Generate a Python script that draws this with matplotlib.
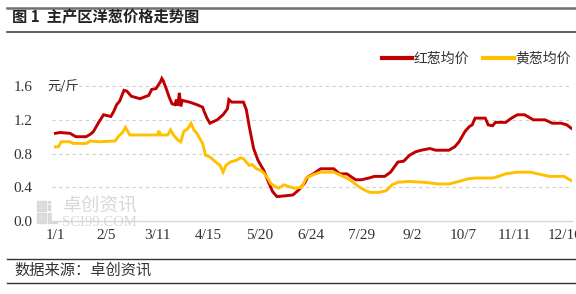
import matplotlib
matplotlib.use("Agg")
import matplotlib.pyplot as plt
from matplotlib.lines import Line2D
from matplotlib.patches import Rectangle

plt.rcParams['font.family'] = ['Noto Sans CJK SC', 'DejaVu Sans']

# days since 1/1 (2024) and price, yuan/jin
red_days = [0, 3, 10, 14, 21, 24, 26, 30, 33, 38, 40, 42, 44, 47, 49, 52, 58, 61, 64, 66, 69,
            72, 73, 74, 76, 78, 80, 82, 83, 84, 85, 86, 87, 92, 97, 101, 102, 104, 106, 111,
            115, 118, 119, 121, 129, 131, 133, 136, 139, 143, 146, 149, 152, 158, 163, 167,
            171, 173, 177, 182, 191, 195, 200, 206, 210, 215, 219, 226, 230, 235, 239, 243,
            247, 251, 257, 261, 270, 274, 277, 281, 284, 286, 288, 295, 297, 300, 302, 309,
            313, 317, 322, 325, 328, 336, 341, 347, 351, 354]
red_vals = [1.04, 1.05, 1.04, 1.00, 1.00, 1.03, 1.06, 1.18, 1.26, 1.24, 1.30, 1.38, 1.42, 1.55,
            1.54, 1.48, 1.45, 1.47, 1.49, 1.56, 1.57, 1.65, 1.69, 1.66, 1.57, 1.47, 1.39, 1.38,
            1.44, 1.37, 1.52, 1.36, 1.43, 1.41, 1.38, 1.35, 1.30, 1.22, 1.16, 1.20, 1.26, 1.33,
            1.44, 1.41, 1.41, 1.32, 1.12, 0.86, 0.72, 0.60, 0.47, 0.35, 0.29, 0.30, 0.31, 0.37,
            0.45, 0.52, 0.56, 0.62, 0.62, 0.56, 0.56, 0.49, 0.49, 0.51, 0.53, 0.53, 0.58, 0.70,
            0.71, 0.78, 0.82, 0.84, 0.86, 0.84, 0.84, 0.88, 0.94, 1.06, 1.12, 1.14, 1.22, 1.22,
            1.14, 1.13, 1.17, 1.17, 1.22, 1.26, 1.26, 1.23, 1.20, 1.20, 1.16, 1.16, 1.14, 1.10]

yel_days = [0, 2, 4, 10, 12, 21, 24, 30, 41, 43, 46, 48, 51, 70, 71, 72, 77, 79, 81, 84, 86,
            88, 91, 93, 95, 97, 99, 101, 103, 106, 110, 113, 115, 117, 120, 124, 127, 129, 131,
            133, 135, 138, 141, 143, 146, 148, 151, 153, 157, 160, 164, 169, 172, 177, 182,
            191, 195, 202, 208, 213, 216, 222, 227, 231, 235, 243, 253, 263, 270, 277, 283,
            288, 300, 304, 309, 317, 326, 331, 339, 349, 354]
yel_vals = [0.88, 0.88, 0.94, 0.94, 0.92, 0.92, 0.95, 0.94, 0.95, 1.00, 1.05, 1.11, 1.02, 1.02,
            1.07, 1.02, 1.02, 1.08, 1.02, 0.96, 0.94, 1.06, 1.10, 1.16, 1.08, 1.04, 0.98, 0.92,
            0.78, 0.76, 0.70, 0.66, 0.58, 0.66, 0.70, 0.72, 0.75, 0.74, 0.70, 0.66, 0.67, 0.62,
            0.60, 0.57, 0.50, 0.44, 0.41, 0.39, 0.43, 0.41, 0.39, 0.40, 0.51, 0.55, 0.58, 0.58,
            0.55, 0.49, 0.41, 0.36, 0.34, 0.34, 0.36, 0.43, 0.46, 0.47, 0.46, 0.44, 0.44, 0.47,
            0.50, 0.51, 0.51, 0.53, 0.56, 0.58, 0.58, 0.56, 0.53, 0.53, 0.48]

tick_days = [0, 35, 70, 105, 140, 175, 210, 245, 280, 315, 350]
tick_labels = ["1/1", "2/5", "3/11", "4/15", "5/20", "6/24", "7/29", "9/2", "10/7", "11/11", "12/16"]
y_ticks = [0.0, 0.4, 0.8, 1.2, 1.6]

RED = "#C00000"
YEL = "#FFC000"
serif = "Liberation Serif"

fig = plt.figure(figsize=(5.76, 2.94), dpi=100)
ax = fig.add_axes([0.09, 0.248, 0.903, 0.574])

ax.plot(red_days, red_vals, color=RED, lw=2.1, solid_joinstyle="miter")
ax.plot(yel_days, yel_vals, color=YEL, lw=2.1, solid_joinstyle="miter")

ax.set_xlim(-2.5, 354.5)
ax.set_ylim(0, 2.0)
ax.set_yticks(y_ticks)
ax.set_yticklabels([f"{v:.1f}" for v in y_ticks], fontfamily=serif, fontsize=11, color="#333333")
ax.set_xticks(tick_days)
ax.set_xticklabels(tick_labels, fontfamily=serif, fontsize=11, color="#333333")
ax.tick_params(length=0, pad=6)
ax.tick_params(axis="y", pad=14)
for y in y_ticks[1:]:
    ax.axhline(y, color="#d0d0d0", lw=0.8, ls=(0, (3, 3)), zorder=0)
for s in ["top", "right", "left"]:
    ax.spines[s].set_visible(False)
ax.spines["bottom"].set_color("#d9d9d9")
ax.spines["bottom"].set_linewidth(1.0)

fig.text(47 / 576, 1 - 86 / 294, "元/斤", fontsize=9.5, color="#333333", va="center")

# legend
handles = [Line2D([], [], color=RED, lw=3), Line2D([], [], color=YEL, lw=3)]
fig.legend(handles, ["红葱均价", "黄葱均价"], loc="center right", bbox_to_anchor=(1.012, 1 - 59 / 294),
           ncol=2, frameon=False, fontsize=10, handlelength=2.2, handletextpad=0.1, columnspacing=1.0,
           labelcolor="#333333")

# title and frame lines
fig.add_artist(Line2D([7 / 576, 1], [1 - 7.5 / 294] * 2, color="#707070", lw=1.8))
fig.text(12 / 576, 1 - 17 / 294, "图 1  主产区洋葱价格走势图", fontsize=11, fontweight="bold",
         color="#222222", va="center")
fig.add_artist(Line2D([7 / 576, 1], [1 - 31.5 / 294] * 2, color="#444444", lw=1.2))
fig.add_artist(Line2D([7 / 576, 1], [1 - 259 / 294] * 2, color="#333333", lw=1.0))
fig.text(14 / 576, 1 - 270 / 294, "数据来源：卓创资讯", fontsize=11, color="#333333", va="center")
fig.add_artist(Line2D([7 / 576, 1], [1 - 283 / 294] * 2, color="#333333", lw=1.0))

# watermark
wm = "#cfcfcf"
for i, j in [(0, 0), (0, 1), (1, 0)]:
    fig.add_artist(Rectangle(((37 + i * 11) / 576, 1 - (223 - j * 12) / 294), 9 / 576, 10 / 294,
                             transform=fig.transFigure, color=wm, alpha=0.7, zorder=0))
for i in range(3):
    for j in range(3):
        fig.add_artist(Rectangle(((48 + i * 3.5) / 576, 1 - (210 - j * 3.5) / 294), 2 / 576, 2 / 294,
                                 transform=fig.transFigure, color=wm, alpha=0.7, zorder=0))
fig.text(63 / 576, 1 - 206 / 294, "卓创资讯", fontsize=13.5, color=wm, va="center", alpha=0.8)
fig.text(62 / 576, 1 - 223 / 294, "SCI99.COM", fontsize=10.5, color=wm, va="center",
         fontfamily=serif, alpha=0.8)

fig.savefig("out.png", dpi=100)
